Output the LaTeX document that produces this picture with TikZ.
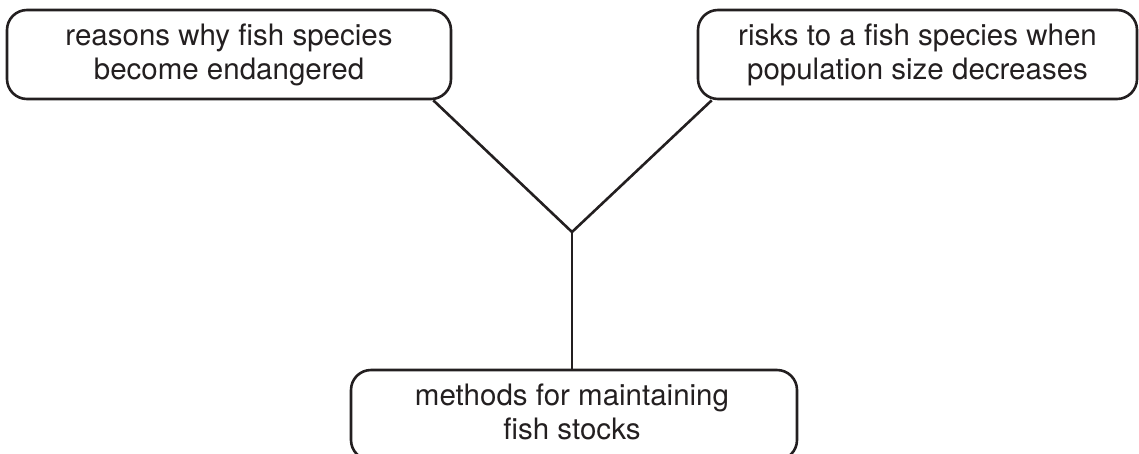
\documentclass[tikz,border=0pt]{standalone}
\usepackage{fontspec}
\setmainfont{TeX Gyre Heros}
\definecolor{ink}{HTML}{231F20}
\begin{document}
\begin{tikzpicture}[x=1pt,y=-1pt,
  label/.style={text=ink, font=\fontsize{29.5}{34}\selectfont, align=center, inner sep=0pt},
  box/.style={draw=ink, line width=2.6pt, rounded corners=20pt, inner sep=0pt, label},
  link/.style={draw=ink, line width=2.6pt}]
\useasboundingbox (0,0) rectangle (1139,453);
\node[box, minimum width=444pt, minimum height=89pt] (left) at (229,54.5) {reasons why fish species\\become endangered};
\node[box, minimum width=439pt, minimum height=89pt] (right) at (917.5,54.5) {risks to a fish species when\\population size decreases};
\node[box, minimum width=446pt, minimum height=90pt] (bottom) at (574,415) {};
\node[label] (btext) at (572,412) {methods for maintaining\\fish stocks};
\coordinate (j) at (572,232);
\coordinate (ls) at ([xshift=-19pt]left.south east);
\coordinate (rs) at ([xshift=15pt]right.south west);
\coordinate (bt) at (bottom.north -| j);
\draw[link] (ls) -- (j) -- (rs);
\draw[link] (j) -- (bt);
\end{tikzpicture}
\end{document}
